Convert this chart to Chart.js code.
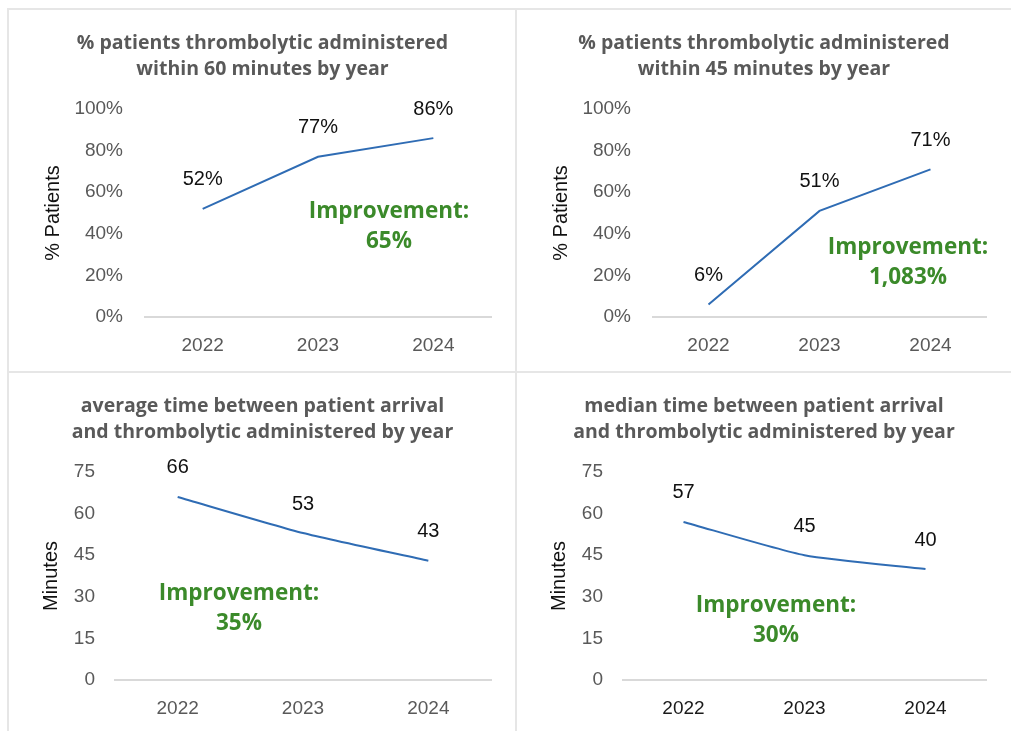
<!DOCTYPE html>
<html>
<head>
<meta charset="utf-8">
<script src="https://cdn.jsdelivr.net/npm/chart.js@4/dist/chart.umd.min.js"></script>
<style>
  body { margin: 0; background: #fff; }
  #page { position: relative; width: 1011px; height: 731px; overflow: hidden; }
  canvas { position: absolute; }
  .rule { position: absolute; background: #e6e6e6; }
</style>
</head>
<body>
<div id="page">
  <div class="rule" style="left:8px;top:8px;width:1003px;height:2px"></div>
  <div class="rule" style="left:7px;top:8px;width:2px;height:723px"></div>
  <div class="rule" style="left:515px;top:8px;width:2px;height:723px"></div>
  <div class="rule" style="left:8px;top:371px;width:1003px;height:2px"></div>
  <canvas id="c1" width="507" height="362" style="left:9px;top:10px"></canvas>
  <canvas id="c2" width="494" height="362" style="left:517px;top:10px"></canvas>
  <canvas id="c3" width="507" height="358" style="left:9px;top:373px"></canvas>
  <canvas id="c4" width="494" height="358" style="left:517px;top:373px"></canvas>
</div>
<script>
const years = ["2022", "2023", "2024"];
const within60 = [52, 77, 86];
const within45 = [6, 51, 71];
const avgMinutes = [66, 53, 43];
const medianMinutes = [57, 45, 40];

const pctAxis = { min: 0, max: 100, step: 20 };
const minAxis = { min: 0, max: 75, step: 15 };

const FONT = "'Liberation Sans', Arial, sans-serif";
const BOLD = "'Open Sans', sans-serif";

// value labels above points + green improvement note
const labelPlugin = {
  id: "valueLabels",
  afterDatasetsDraw(chart, args, opts) {
    const ctx = chart.ctx;
    const meta = chart.getDatasetMeta(0);
    const values = chart.data.datasets[0].data;
    ctx.save();
    ctx.font = "20px " + FONT;
    ctx.fillStyle = "#111";
    ctx.textAlign = "center";
    ctx.textBaseline = "middle";
    meta.data.forEach((pt, i) => {
      ctx.fillText(values[i] + opts.suffix, pt.x, pt.y - 29);
    });
    ctx.font = "bold 22.5px " + BOLD;
    ctx.fillStyle = "#3b8a2a";
    opts.note.lines.forEach((line, i) => {
      ctx.fillText(line, opts.note.x, opts.note.y + i * 30);
    });
    ctx.restore();
  }
};

function makeChart(id, title, data, axis, yTitle, suffix, left, xHeight, note, tension, xColor) {
  new Chart(document.getElementById(id), {
    type: "line",
    data: {
      labels: years,
      datasets: [{
        data: data,
        borderColor: "#2f6cb4",
        borderWidth: 2,
        pointRadius: 0,
        tension: tension,
        fill: false,
      }],
    },
    plugins: [labelPlugin],
    options: {
      responsive: false,
      animation: false,
      layout: { padding: { top: 20, left: 25, right: 25, bottom: 0 } },
      plugins: {
        legend: { display: false },
        tooltip: { enabled: false },
        title: {
          display: true,
          text: title,
          color: "#595959",
          font: { family: BOLD, size: 19.5, weight: "bold", lineHeight: 26 / 19.5 },
          padding: { top: 0, bottom: 27 },
        },
        valueLabels: { suffix: suffix, note: note },
      },
      scales: {
        x: {
          offset: true,
          grid: { display: false, drawTicks: false },
          border: { display: true, color: "#d9d9d9", width: 2 },
          ticks: { color: xColor, font: { family: FONT, size: 19 }, padding: 17 },
          afterFit: (s) => { s.height = xHeight; },
        },
        y: {
          min: axis.min,
          max: axis.max,
          grid: { display: false, drawTicks: false },
          border: { display: false },
          ticks: {
            stepSize: axis.step,
            color: "#595959",
            padding: left.gap,
            font: { family: FONT, size: 19 },
            callback: (v) => v + suffix,
          },
          title: {
            display: true,
            text: yTitle,
            color: "#111",
            font: { family: FONT, size: 20 },
            padding: { top: left.titleX - 25 - 12, bottom: 0 },
          },
          afterFit: (s) => { s.width = left.area - 25; },
        },
      },
    },
  });
}

makeChart("c1", ["% patients thrombolytic administered", "within 60 minutes by year"],
  within60, pctAxis, "% Patients", "%", { area: 136, titleX: 44, gap: 22 }, 55,
  { x: 380, y: 202, lines: ["Improvement:", "65%"] }, 0, "#595959");
makeChart("c2", ["% patients thrombolytic administered", "within 45 minutes by year"],
  within45, pctAxis, "% Patients", "%", { area: 136, titleX: 44, gap: 22 }, 55,
  { x: 391, y: 238, lines: ["Improvement:", "1,083%"] }, 0, "#595959");
makeChart("c3", ["average time between patient arrival", "and thrombolytic administered by year"],
  avgMinutes, minAxis, "Minutes", "", { area: 106, titleX: 42, gap: 20 }, 51,
  { x: 230, y: 221, lines: ["Improvement:", "35%"] }, 0.2, "#595959");
makeChart("c4", ["median time between patient arrival", "and thrombolytic administered by year"],
  medianMinutes, minAxis, "Minutes", "", { area: 106, titleX: 42, gap: 20 }, 51,
  { x: 259, y: 233, lines: ["Improvement:", "30%"] }, 0.2, "#1a1a1a");
</script>
</body>
</html>
